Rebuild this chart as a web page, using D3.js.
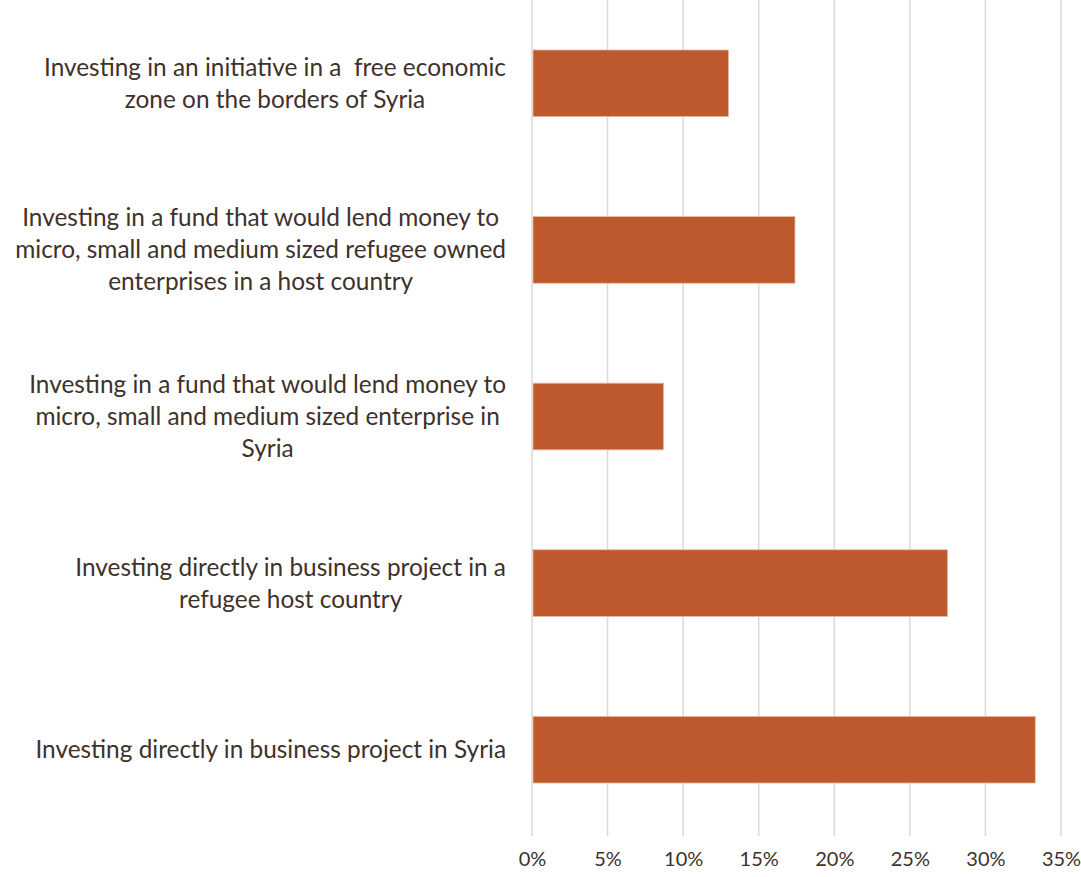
<!DOCTYPE html>
<html>
<head>
<meta charset="utf-8">
<script src="https://cdn.jsdelivr.net/npm/d3@7"></script>
<style>
  html, body { margin: 0; padding: 0; background: #ffffff; }
  svg { display: block; }
  text { font-family: Lato, "Open Sans", sans-serif; fill: #40312b; white-space: pre; }
</style>
</head>
<body>
<div id="chart"></div>
<script>
// Preferred investment options (share of respondents)
const categories = [
  ["Investing in an initiative in a  free economic", "zone on the borders of Syria"],
  ["Investing in a fund that would lend money to", "micro, small and medium sized refugee owned", "enterprises in a host country"],
  ["Investing in a fund that would lend money to", "micro, small and medium sized enterprise in", "Syria"],
  ["Investing directly in business project in a", "refugee host country"],
  ["Investing directly in business project in Syria"]
];
const values = [0.13, 0.174, 0.087, 0.275, 0.333];
const tickValues = [0, 0.05, 0.10, 0.15, 0.20, 0.25, 0.30, 0.35];

const width = 1081, height = 877;
const margin = { top: 0, right: 20, bottom: 44, left: 532 };

const svg = d3.select("#chart").append("svg")
  .attr("width", width).attr("height", height);

const x = d3.scaleLinear().domain([0, 0.35]).range([margin.left, 1061]);
const y = d3.scaleBand()
  .domain(d3.range(categories.length))
  .range([margin.top, 833])
  .paddingInner(0.6).paddingOuter(0.3);

// vertical gridlines
svg.append("g")
  .selectAll("line").data(tickValues).join("line")
  .attr("x1", d => x(d)).attr("x2", d => x(d))
  .attr("y1", 0).attr("y2", 836)
  .attr("stroke", "#d9d9d9").attr("stroke-width", 1.5);

// x axis labels
const xAxis = d3.axisBottom(x).tickValues(tickValues)
  .tickFormat(d3.format(".0%")).tickSize(0).tickPadding(0);
const gx = svg.append("g").attr("transform", "translate(0,852)").call(xAxis);
gx.select(".domain").remove();
gx.selectAll("text").attr("font-size", 20).attr("dy", "0.72em")
  .style("font-family", "Lato, 'Open Sans', sans-serif").attr("fill", "#40312b");

// bars
svg.append("g")
  .selectAll("rect").data(values).join("rect")
  .attr("x", x(0) + 1)
  .attr("y", (d, i) => y(i))
  .attr("width", d => x(d) - x(0) - 1)
  .attr("height", y.bandwidth())
  .attr("fill", "#bd592d")
  .attr("stroke", "#e9b9a2").attr("stroke-width", 0.8);

// category labels, each block centred on its widest line
const labelRight = 506;
const lineH = 32;
const fs = 24.4;
const lg = svg.append("g");
categories.forEach((lines, i) => {
  const cy = y(i) + y.bandwidth() / 2;
  const t = lg.append("text").attr("font-size", fs).attr("text-anchor", "middle");
  const spans = lines.map((ln, j) =>
    t.append("tspan").text(ln)
      .attr("y", cy + (j - (lines.length - 1) / 2) * lineH)
      .attr("dy", "0.35em"));
  const maxW = d3.max(spans, s => s.node().getComputedTextLength());
  spans.forEach(s => s.attr("x", labelRight - maxW / 2));
});
</script>
</body>
</html>
